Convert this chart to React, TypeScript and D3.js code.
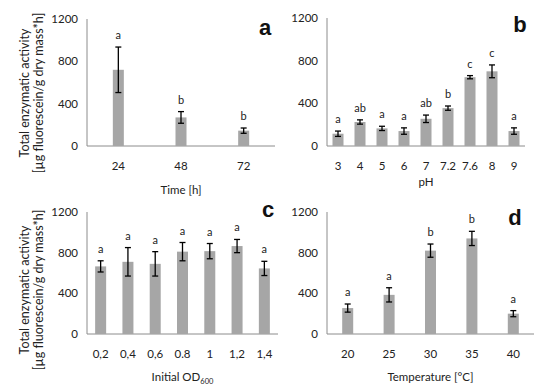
import * as d3 from 'd3';

const timeCats = ['24', '48', '72'];
const timeVals = [720, 270, 145];
const timeErr = [215, 55, 25];
const timeSig = ['a', 'b', 'b'];

const phCats = ['3', '4', '5', '6', '7', '7.2', '7.6', '8', '9'];
const phVals = [115, 225, 165, 140, 255, 355, 645, 700, 140];
const phErr = [25, 20, 20, 30, 35, 20, 15, 60, 30];
const phSig = ['a', 'ab', 'a', 'a', 'ab', 'b', 'c', 'c', 'a'];

const odCats = ['0,2', '0,4', '0,6', '0.8', '1', '1,2', '1,4'];
const odVals = [665, 710, 690, 810, 815, 865, 645];
const odErr = [55, 140, 120, 90, 75, 65, 70];
const odSig = ['a', 'a', 'a', 'a', 'a', 'a', 'a'];

const tempCats = ['20', '25', '30', '35', '40'];
const tempVals = [255, 385, 820, 940, 200];
const tempErr = [40, 70, 65, 70, 30];
const tempSig = ['a', 'a', 'b', 'b', 'a'];

const yTicks = [0, 400, 800, 1200];

const FONT = 'Lato, "Open Sans", sans-serif';

function Panel({ x0, x1, yTop, yBot, cats, vals, errs, sig, xTitle, letter, letterX, letterY, titleY, sub }) {
  const x = d3.scaleBand().domain(cats).range([x0, x1]);
  const y = d3.scaleLinear().domain([0, 1200]).range([yBot, yTop]);
  const bw = 11;
  return (
    <g>
      <line x1={x0} x2={x0} y1={yTop} y2={yBot} stroke="#8c8c8c" />
      <line x1={x0} x2={x1} y1={yBot} y2={yBot} stroke="#8c8c8c" />
      {yTicks.map(t => (
        <text key={t} x={x0 - 9} y={y(t)} dy="0.35em" textAnchor="end" fontSize={11.5} fill="#222">{t}</text>
      ))}
      {cats.map((c, i) => {
        const cx = x(c) + x.bandwidth() / 2;
        const hi = y(vals[i] + errs[i]);
        const lo = y(vals[i] - errs[i]);
        return (
          <g key={c}>
            <rect x={cx - bw / 2} y={y(vals[i])} width={bw} height={yBot - y(vals[i])} fill="#a6a6a6" />
            <line x1={cx} x2={cx} y1={hi} y2={lo} stroke="#000" strokeWidth={1.3} />
            <line x1={cx - 3} x2={cx + 3} y1={hi} y2={hi} stroke="#000" strokeWidth={1.3} />
            <line x1={cx - 3} x2={cx + 3} y1={lo} y2={lo} stroke="#000" strokeWidth={1.3} />
            <text x={cx} y={hi - 8} textAnchor="middle" fontSize={11} fill="#222">{sig[i]}</text>
            <text x={cx} y={yBot + 24} textAnchor="middle" fontSize={11.5} fill="#222">{c}</text>
          </g>
        );
      })}
      <text x={(x0 + x1) / 2} y={titleY} textAnchor="middle" fontSize={11.5} fill="#222">
        {xTitle}
        {sub ? <tspan fontSize={7.5} dy="3">{sub}</tspan> : null}
      </text>
      <text x={letterX} y={letterY} textAnchor="middle" fontSize={22} fontWeight="bold" fontFamily="Liberation Sans, Arial, sans-serif" fill="#111">{letter}</text>
    </g>
  );
}

function YTitle({ cy }) {
  return (
    <g fontSize={12.5} fill="#222" textAnchor="middle">
      <text transform={`translate(25,${cy}) rotate(-90)`} dy="0.35em">Total enzymatic activity</text>
      <text transform={`translate(39,${cy}) rotate(-90)`} dy="0.35em">[µg fluorescein/g dry mass*h]</text>
    </g>
  );
}

export default function App() {
  return (
    <svg width={550} height={391} style={{ position: 'absolute', left: 0, top: 0, background: '#fff' }} fontFamily={FONT}>
      <YTitle cy={93} />
      <YTitle cy={290} />
      <Panel x0={87} x1={275} yTop={19} yBot={146} cats={timeCats} vals={timeVals} errs={timeErr} sig={timeSig}
        xTitle="Time [h]" letter="a" letterX={265} letterY={35} titleY={194} />
      <Panel x0={327} x1={525} yTop={18} yBot={146} cats={phCats} vals={phVals} errs={phErr} sig={phSig}
        xTitle="pH" letter="b" letterX={520} letterY={32} titleY={186} />
      <Panel x0={87} x1={278} yTop={212} yBot={334} cats={odCats} vals={odVals} errs={odErr} sig={odSig}
        xTitle="Initial OD" sub="600" letter="c" letterX={268} letterY={217} titleY={381} />
      <Panel x0={327} x1={534} yTop={212} yBot={334} cats={tempCats} vals={tempVals} errs={tempErr} sig={tempSig}
        xTitle="Temperature [°C]" letter="d" letterX={515} letterY={225} titleY={381} />
    </svg>
  );
}
